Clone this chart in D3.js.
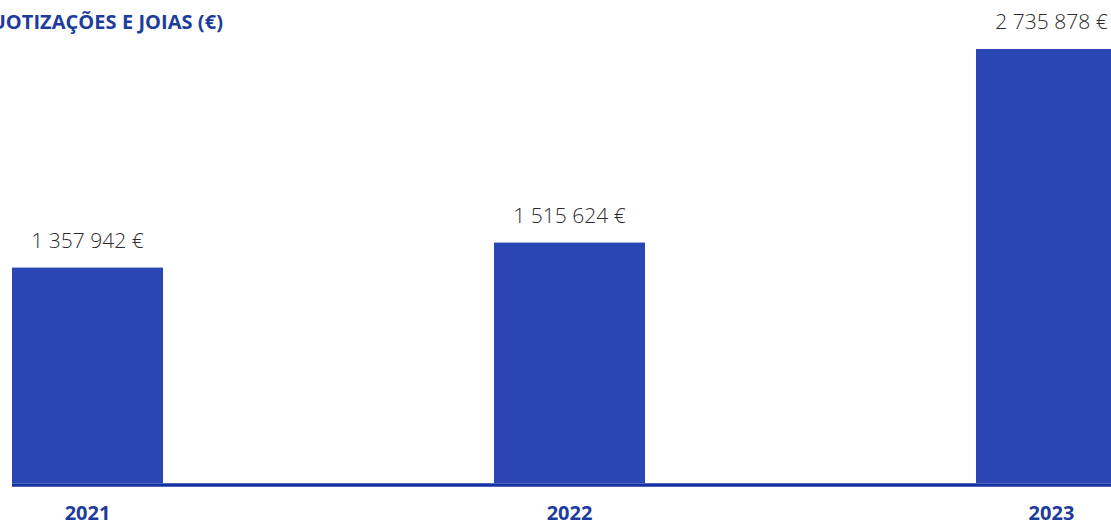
<!DOCTYPE html>
<html>
<head>
<meta charset="utf-8">
<script src="https://cdn.jsdelivr.net/npm/d3@7"></script>
<style>
  html, body { margin: 0; padding: 0; background: #fff; overflow: hidden; }
  svg { display: block; }
</style>
</head>
<body>
<svg id="chart" width="1111" height="525"></svg>
<script>
const years = ["2021", "2022", "2023"];
const values = [1357942, 1515624, 2735878];
const valueLabels = ["1 357 942 €", "1 515 624 €", "2 735 878 €"];
const title = "QUOTIZAÇÕES E JOIAS (€)";

const svg = d3.select("#chart");
const baseY = 483;

const x = d3.scaleBand().domain(years).range([12, 1127]).paddingInner(0.6867).paddingOuter(0);
const y = d3.scaleLinear().domain([0, d3.max(values)]).range([baseY, 49]);

const data = years.map((yr, i) => ({ yr, v: values[i], label: valueLabels[i] }));

svg.append("text")
  .attr("x", 223).attr("y", 29)
  .attr("text-anchor", "end")
  .attr("font-family", "'Open Sans', sans-serif")
  .attr("font-weight", 700)
  .attr("font-size", 20)
  .attr("letter-spacing", 0.05)
  .attr("fill", "#1d3c9c")
  .text(title);

svg.selectAll("rect.bar").data(data).join("rect")
  .attr("class", "bar")
  .attr("x", d => x(d.yr))
  .attr("width", x.bandwidth())
  .attr("y", d => y(d.v))
  .attr("height", d => baseY - y(d.v))
  .attr("fill", "#2a46b5");

svg.append("line")
  .attr("x1", 12).attr("x2", 1111)
  .attr("y1", baseY + 2).attr("y2", baseY + 2)
  .attr("stroke", "#1532a2")
  .attr("stroke-width", 3.5);

svg.selectAll("text.val").data(data).join("text")
  .attr("class", "val")
  .attr("x", d => x(d.yr) + x.bandwidth() / 2)
  .attr("y", d => y(d.v) - 20)
  .attr("text-anchor", "middle")
  .attr("font-family", "'Open Sans', sans-serif")
  .attr("font-weight", 300)
  .attr("font-size", 21)
  .attr("fill", "#2b2b2b")
  .text(d => d.label);

svg.selectAll("text.yr").data(data).join("text")
  .attr("class", "yr")
  .attr("x", d => x(d.yr) + x.bandwidth() / 2)
  .attr("y", 520)
  .attr("text-anchor", "middle")
  .attr("font-family", "'Open Sans', sans-serif")
  .attr("font-weight", 700)
  .attr("font-size", 20)
  .attr("fill", "#1d3c9c")
  .text(d => d.yr);
</script>
</body>
</html>
